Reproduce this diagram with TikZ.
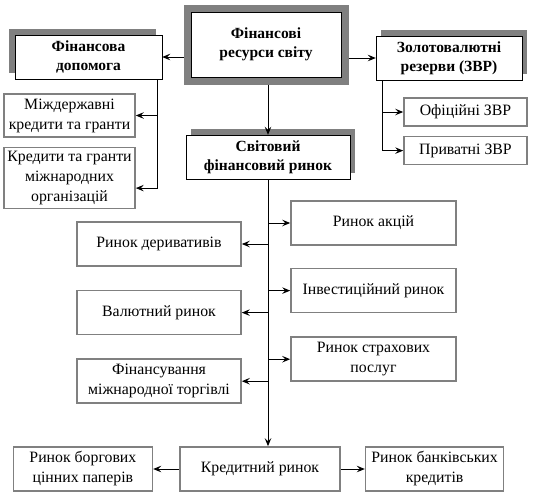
\documentclass[tikz,border=0pt]{standalone}
\usepackage{fontspec}
\setmainfont{Liberation Serif}
\usetikzlibrary{arrows.meta, positioning, shadows}

\begin{document}
\begin{tikzpicture}[
    x=1pt, y=-1pt,
    node distance=23pt and 25pt,
    % === STYLES ===
    topbox/.style={
        rectangle,
        draw=black,
        fill=white,
        preaction={draw=gray, line width=15pt},
        outer sep=7.5pt,
        inner sep=0pt,
        text centered,
        font=\fontsize{15.5}{19}\selectfont\bfseries,
        align=center
    },
    headbox/.style={
        rectangle,
        draw=black,
        fill=white,
        general shadow={fill=gray, shadow xshift=#1, shadow yshift=6pt},
        inner sep=0pt,
        text centered,
        minimum height=44pt,
        font=\fontsize{15.5}{19}\selectfont\bfseries,
        align=center
    },
    headbox/.default=5pt,
    itembox/.style={
        rectangle,
        draw=gray,
        line width=1.6pt,
        fill=white,
        inner sep=0pt,
        text centered,
        minimum height=44pt,
        font=\fontsize{15.8}{20}\selectfont,
        align=center
    },
    arrow/.style={
        -{Stealth[length=8pt, width=6.5pt, inset=3pt]},
        line width=0.9pt,
        color=black
    }
]
\useasboundingbox (0,0) rectangle (537,499);

% === TOP ROW ===
\node[topbox, minimum width=150pt, minimum height=65pt] (res) at (266,44.5) {Фінансові\\ресурси світу};
\node[headbox=-6pt, minimum width=147pt] (dop) at (88.5,57) {Фінансова\\допомога};
\node[headbox, minimum width=146pt] (zvr) at (449,58) {Золотовалютні\\резерви (ЗВР)};

% Financial aid
\node[itembox, minimum width=131pt, minimum height=43pt] (mizh) at (69.5,115.5) {Міждержавні\\кредити та гранти};
\node[itembox, minimum width=131pt, minimum height=61pt, below=9pt of mizh] (kredorg) {Кредити та гранти\\міжнародних\\організацій};

% Reserves
\node[itembox, minimum width=123pt, minimum height=28pt] (ofic) at (465.5,112) {Офіційні ЗВР};
\node[itembox, minimum width=123pt, minimum height=28pt, below=9pt of ofic] (pryv) {Приватні ЗВР};

% === WORLD MARKET ===
\node[headbox, minimum width=164pt] (market) at (268,157) {Світовий\\фінансовий ринок};

% Left column
\node[itembox, minimum width=164pt] (deriv) at (159,244) {Ринок деривативів};
\node[itembox, minimum width=164pt, below=of deriv] (val) {Валютний ринок};
\node[itembox, minimum width=164pt, below=of val] (fintorg) {Фінансування\\міжнародної торгівлі};

% Right column
\node[itembox, minimum width=165pt] (akc) at (373.5,223) {Ринок акцій};
\node[itembox, minimum width=165pt, below=22pt of akc] (inv) {Інвестиційний ринок};
\node[itembox, minimum width=165pt, below=of inv] (strakh) {Ринок страхових\\послуг};

% === CREDIT MARKET ===
\node[itembox, minimum width=160pt] (kredit) at (260,469) {Кредитний ринок};
\node[itembox, minimum width=139pt, left=26pt of kredit] (borg) {Ринок боргових\\цінних паперів};
\node[itembox, minimum width=138pt, right=24pt of kredit] (bank) {Ринок банківських\\кредитів};

% === CONNECTIONS ===
\draw[arrow] (res.west |- dop) -- (dop.east);
\draw[arrow] (res.east |- zvr) -- (zvr.west);
\draw[arrow] (res.south -| market) -- (market.north);

% To aid items
\draw[arrow] ([xshift=-5pt]dop.south east) |- (mizh.east);
\draw[arrow] ([xshift=-5pt]dop.south east) |- ([yshift=-10pt]kredorg.east);

% To reserve items
\draw[arrow] ([xshift=7pt]zvr.south west) |- (ofic.west);
\draw[arrow] ([xshift=7pt]zvr.south west) |- (pryv.west);

% Trunk
\draw[arrow] (market.south) -- (market.south |- kredit.north);
\draw[arrow] (market.south |- deriv) -- (deriv.east);
\draw[arrow] (market.south |- val) -- (val.east);
\draw[arrow] (market.south |- fintorg) -- (fintorg.east);
\draw[arrow] (market.south |- akc) -- (akc.west);
\draw[arrow] (market.south |- inv) -- (inv.west);
\draw[arrow] (market.south |- strakh) -- (strakh.west);

% Credit market
\draw[arrow] (kredit.west) -- (borg.east);
\draw[arrow] (kredit.east) -- (bank.west);

\end{tikzpicture}
\end{document}
